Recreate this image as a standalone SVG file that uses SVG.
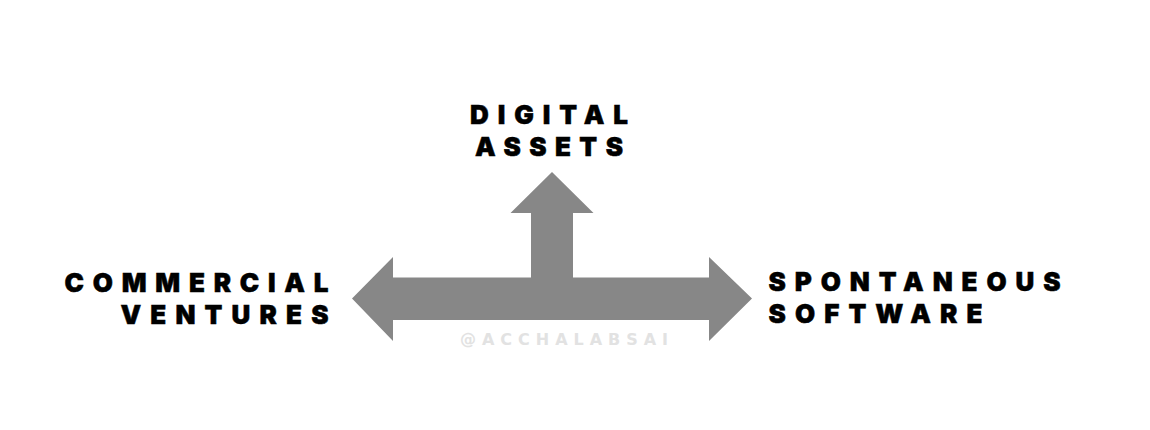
<svg xmlns="http://www.w3.org/2000/svg" width="1150" height="430" viewBox="0 0 1150 430">
  <style>
    .lbl { font-family: Inter, "DejaVu Sans", "Liberation Sans", sans-serif; font-weight: 900; font-size: 26px; fill: #000; stroke: #000; stroke-width: 0.5px; }
    .wm { font-family: "DejaVu Sans", Inter, "Liberation Sans", sans-serif; font-weight: 700; font-size: 16px; fill: #e2e2e2; }
    .arrow { fill: #878787; }
  </style>
  <rect width="1150" height="430" fill="#ffffff"/>
  <g id="connectors">
    <polygon class="arrow" points="352,298.5 393,257 393,277.5 531,277.5 531,213 510.5,213 552,172 593.5,213 573,213 573,277.5 709,277.5 709,257 752,298.5 709,341 709,320 393,320 393,341"/>
  </g>
  <g id="node-digital-assets">
    <text class="lbl" x="470" y="123.5" textLength="158" lengthAdjust="spacing">DIGITAL</text>
    <text class="lbl" x="475" y="156" textLength="148" lengthAdjust="spacing">ASSETS</text>
  </g>
  <g id="node-commercial-ventures">
    <text class="lbl" x="64.5" y="291.5" textLength="264" lengthAdjust="spacing">COMMERCIAL</text>
    <text class="lbl" x="120.5" y="323.5" textLength="208" lengthAdjust="spacing">VENTURES</text>
  </g>
  <g id="node-spontaneous-software">
    <text class="lbl" x="768.5" y="290.5" textLength="292" lengthAdjust="spacing">SPONTANEOUS</text>
    <text class="lbl" x="768.5" y="323" textLength="214" lengthAdjust="spacing">SOFTWARE</text>
  </g>
  <g id="watermark">
    <text class="wm" x="460" y="345" textLength="208" lengthAdjust="spacing">@ACCHALABSAI</text>
  </g>
</svg>
